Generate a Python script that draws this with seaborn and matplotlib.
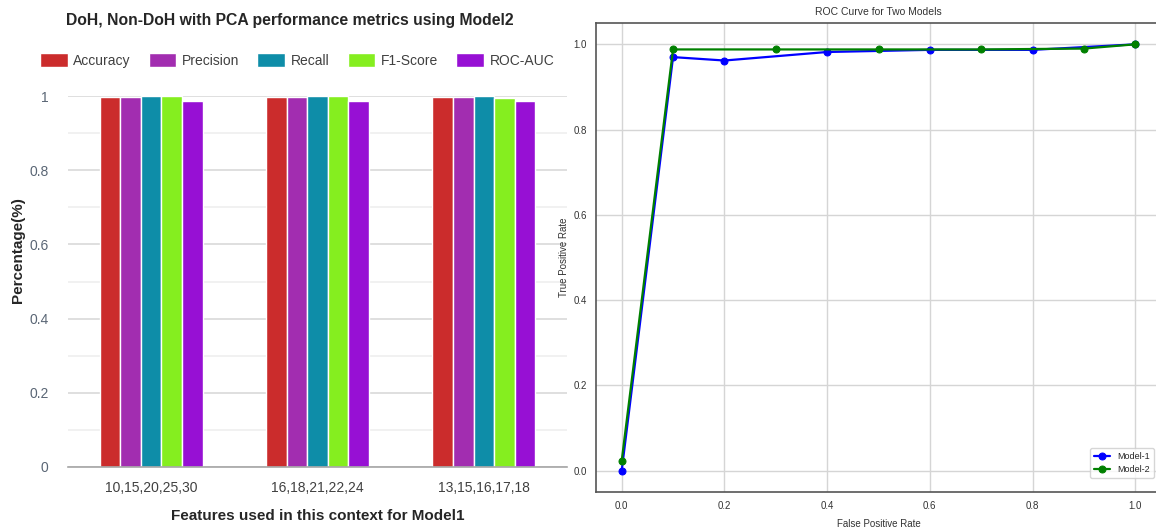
import matplotlib
matplotlib.use('Agg')
import matplotlib.pyplot as plt
import seaborn as sns
import pandas as pd
from matplotlib.ticker import MultipleLocator

# data
feature_sets = ['10,15,20,25,30', '16,18,21,22,24', '13,15,16,17,18']
metrics = ['Accuracy', 'Precision', 'Recall', 'F1-Score', 'ROC-AUC']
accuracy = [0.996, 0.996, 0.996]
precision = [0.996, 0.996, 0.996]
recall = [0.999, 0.999, 0.999]
f1_score = [0.999, 0.999, 0.995]
roc_auc = [0.987, 0.987, 0.987]
bar_colors = ['#CB2C2C', '#A22DB0', '#0E8DA8', '#85EE1F', '#9710D4']

fpr_model1 = [0.0, 0.1, 0.2, 0.4, 0.6, 0.8, 1.0]
tpr_model1 = [0.0, 0.970, 0.962, 0.982, 0.987, 0.987, 1.0]
fpr_model2 = [0.0, 0.1, 0.3, 0.5, 0.7, 0.9, 1.0]
tpr_model2 = [0.023, 0.988, 0.988, 0.988, 0.988, 0.990, 1.0]

sns.set_style('white')
plt.rcParams['font.family'] = ['Liberation Sans', 'DejaVu Sans']

fig = plt.figure(figsize=(11.56, 5.32), dpi=100)
W, H = 1156, 532

# ---------- left: bar chart ----------
ax1 = fig.add_axes([68 / W, 1 - 467 / H, (567 - 68) / W, (467 - 96) / H])
rows = []
for m, vals in zip(metrics, [accuracy, precision, recall, f1_score, roc_auc]):
    for f, v in zip(feature_sets, vals):
        rows.append({'features': f, 'metric': m, 'value': v})
df = pd.DataFrame(rows)
sns.barplot(data=df, x='features', y='value', hue='metric', palette=bar_colors,
            width=0.62, edgecolor='white', linewidth=1, saturation=1, ax=ax1)
ax1.set_ylim(0, 1)
ax1.yaxis.set_minor_locator(MultipleLocator(0.1))
ax1.set_yticks([0, 0.2, 0.4, 0.6, 0.8, 1.0])
ax1.set_yticklabels(['0', '0.2', '0.4', '0.6', '0.8', '1'])
ax1.grid(axis='y', which='major', color='#d9d9d9', linewidth=1.2)
ax1.grid(axis='y', which='minor', color='#efefef', linewidth=1.2)
ax1.set_axisbelow(True)
for s in ['top', 'right', 'left']:
    ax1.spines[s].set_visible(False)
ax1.spines['bottom'].set_color('#a6a6a6')
ax1.spines['bottom'].set_linewidth(1.2)
ax1.tick_params(axis='y', length=0, pad=14, labelsize=10, labelcolor='#5a6675')
ax1.tick_params(axis='x', length=0, pad=10, labelsize=10, labelcolor='#404040')
ax1.set_xlabel('Features used in this context for Model1', fontsize=11,
               fontweight='bold', labelpad=10)
ax1.set_ylabel('')
fig.text(18 / W, 1 - 250 / H, 'Percentage(%)', rotation=90, ha='center', va='center',
         fontsize=11, fontweight='bold')
ax1.legend(loc='center', bbox_to_anchor=(0.459, 1.095), ncol=5, frameon=False,
           fontsize=10, handlelength=2.0, handleheight=1.15, columnspacing=1.3,
           handletextpad=0.4, labelcolor='#404040')
fig.text(290 / W, 1 - 20 / H, 'DoH, Non-DoH with PCA performance metrics using Model2',
         ha='center', va='center', fontsize=11.3, fontweight='bold')

# ---------- right: ROC curve ----------
ax2 = fig.add_axes([596 / W, 1 - 492 / H, (1161 - 596) / W, (492 - 23) / H])
sns.lineplot(x=fpr_model1, y=tpr_model1, marker='o', color='blue', linewidth=1.6,
             markersize=5, markeredgecolor='blue', label='Model-1', sort=False, ax=ax2)
sns.lineplot(x=fpr_model2, y=tpr_model2, marker='o', color='green', linewidth=1.6,
             markersize=5, markeredgecolor='green', label='Model-2', sort=False, ax=ax2)
ax2.set_xlim(-0.05, 1.05)
ax2.set_ylim(-0.05, 1.05)
ax2.set_xticks([0, 0.2, 0.4, 0.6, 0.8, 1.0])
ax2.set_yticks([0, 0.2, 0.4, 0.6, 0.8, 1.0])
ax2.grid(True, color='#d5d5d5', linewidth=1)
for s in ax2.spines.values():
    s.set_color('#555555')
    s.set_linewidth(1.2)
ax2.tick_params(labelsize=7, length=3, color='#555555', labelcolor='#333333')
ax2.set_title('ROC Curve for Two Models', fontsize=7.5, color='#333333', pad=6)
ax2.set_xlabel('False Positive Rate', fontsize=7, color='#333333', labelpad=6)
ax2.set_ylabel('True Positive Rate', fontsize=7, color='#333333', labelpad=3)
ax2.legend(loc='lower right', fontsize=6.5, frameon=True, handlelength=1.8,
           bbox_to_anchor=(0.995, 0.02))

fig.savefig('out.png', dpi=100)
